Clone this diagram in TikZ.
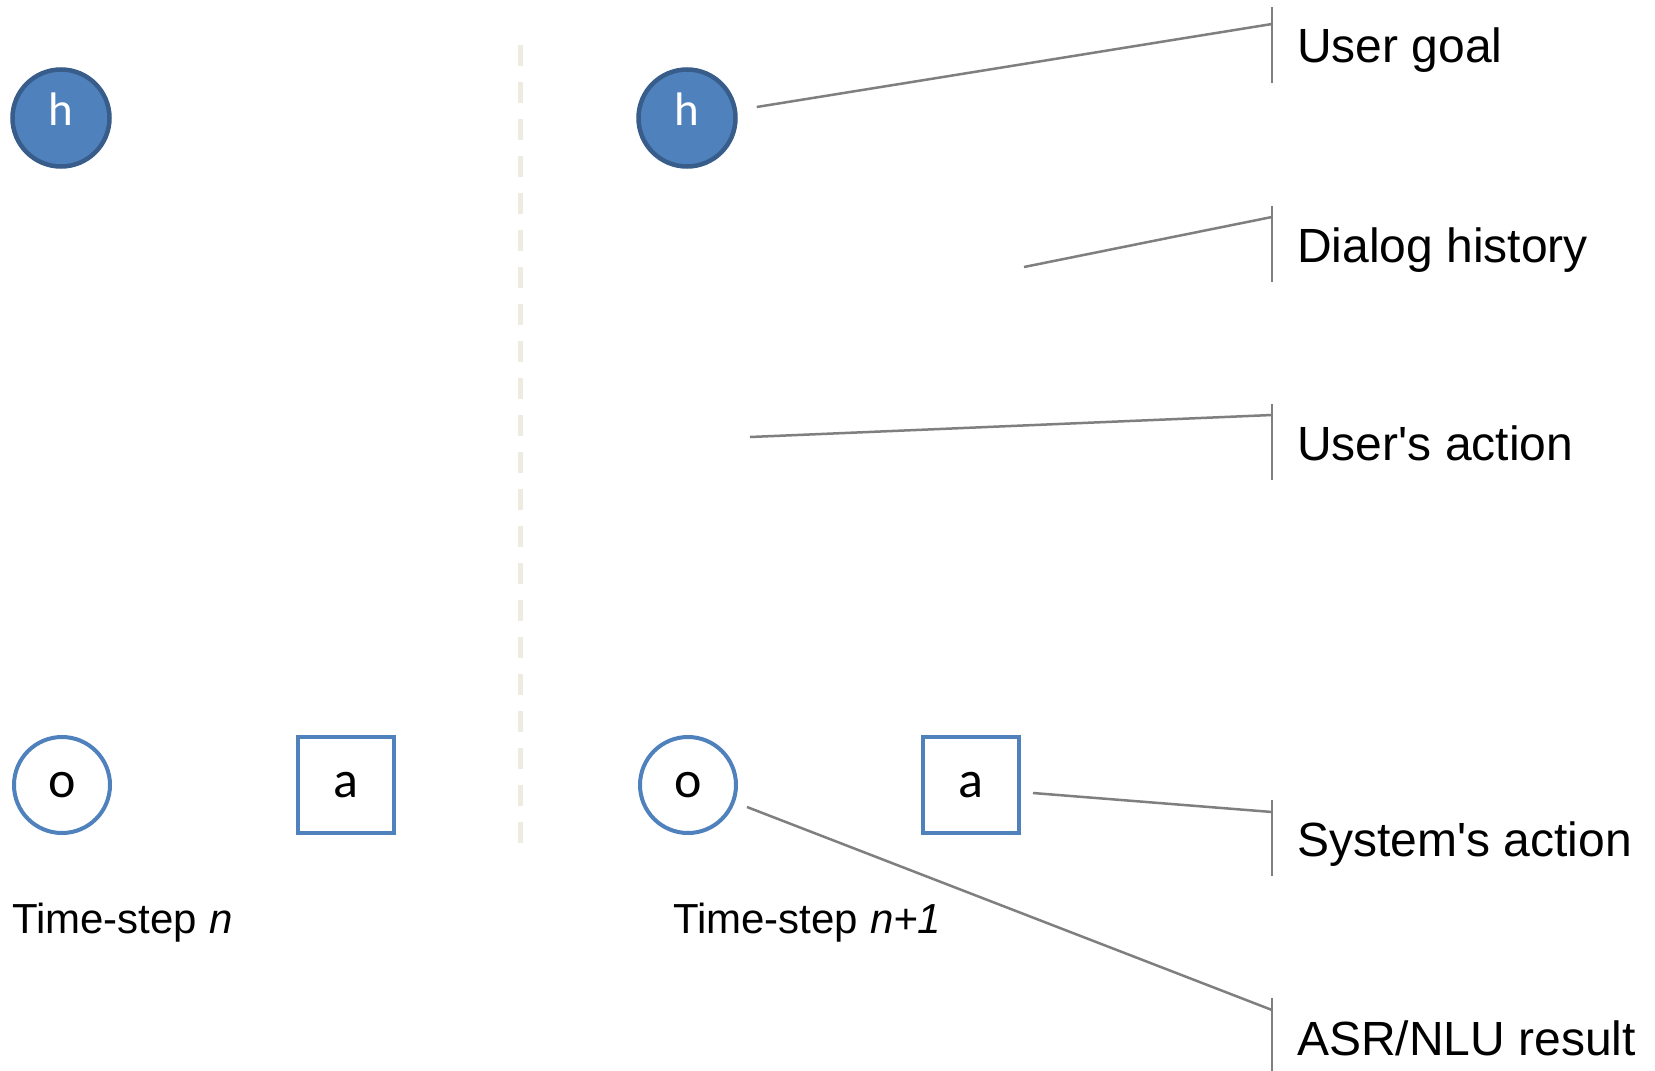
\documentclass[tikz,border=0pt]{standalone}
\usepackage{fontspec}
\setmainfont{Liberation Sans}
\newfontfamily\carl{Carlito}
\definecolor{nodeblue}{HTML}{4F81BD}
\definecolor{darkblue}{HTML}{385D8A}
\definecolor{connGray}{HTML}{7F7F7F}
\definecolor{sepcol}{HTML}{EEECE1}
\tikzset{
  hidden/.style={circle, minimum size=97pt, inner sep=0pt, line width=4.5pt, draw=darkblue, fill=nodeblue, text=white, font=\carl\fontsize{47pt}{47pt}\selectfont},
  obsv/.style={circle, minimum size=96pt, inner sep=0pt, line width=4pt, draw=nodeblue, fill=white, font=\carl\fontsize{52pt}{52pt}\selectfont},
  actn/.style={rectangle, minimum size=96pt, inner sep=0pt, line width=4pt, draw=nodeblue, fill=white, font=\carl\fontsize{52pt}{52pt}\selectfont},
  tslabel/.style={anchor=base west, inner sep=0pt, font=\fontsize{42pt}{42pt}\selectfont},
  lbl/.style={anchor=base west, inner sep=0pt, font=\fontsize{48pt}{48pt}\selectfont},
  conn/.style={draw=connGray, line width=2.5pt},
  bar/.style={draw=connGray, line width=2.5pt},
  sep/.style={draw=sepcol, line width=5pt, dash pattern=on 21pt off 16pt}
}
\begin{document}
\begin{tikzpicture}[x=1pt,y=-1pt]
\useasboundingbox[fill=white] (0,0) rectangle (1655,1071);
% separator
\coordinate (septop) at (520,45);
\coordinate (sepbot) at (520,850);
\draw[sep] (septop) -- (sepbot);
% time-step n
\node[hidden] (h1) at (61,118) {\raisebox{18pt}{h}};
\node[obsv] (o1) at (62,785) {\raisebox{-6pt}{o}};
\node[actn] (a1) at (346,785) {\raisebox{-6pt}{a}};
\node[tslabel] (t1) at (12,933) {Time-step \textit{n}};
% time-step n+1
\node[hidden] (h2) at (687,118) {\raisebox{18pt}{h}};
\node[obsv] (o2) at (688,785) {\raisebox{-6pt}{o}};
\node[actn] (a2) at (971,785) {\raisebox{-6pt}{a}};
\node[tslabel] (t2) at (673,933) {Time-step \textit{n+1}};
% bars
\coordinate (b1t) at (1272,7);    \coordinate (b1b) at (1272,83);
\coordinate (b2t) at (1272,206);  \coordinate (b2b) at (1272,282);
\coordinate (b3t) at (1272,404);  \coordinate (b3b) at (1272,480);
\coordinate (b4t) at (1272,800);  \coordinate (b4b) at (1272,876);
\coordinate (b5t) at (1272,998);  \coordinate (b5b) at (1272,1071);
\draw[bar] (b1t) -- (b1b);
\draw[bar] (b2t) -- (b2b);
\draw[bar] (b3t) -- (b3b);
\draw[bar] (b4t) -- (b4b);
\draw[bar] (b5t) -- (b5b);
% labels
\node[lbl] (lgoal) at (1297,62) {User goal};
\node[lbl] (lhist) at (1297,262) {Dialog history};
\node[lbl] (luact) at (1297,460) {User\textquotesingle s action};
\node[lbl] (lsact) at (1297,856) {System\textquotesingle s action};
\node[lbl] (lasr) at (1297,1055) {ASR/NLU result};
% connector points
\coordinate (cgoal) at (1272,24);
\coordinate (chist) at (1272,217);
\coordinate (cuact) at (1272,415);
\coordinate (csact) at (1272,812);
\coordinate (casr) at (1272,1010);
\coordinate (shist) at (1024,267);
\coordinate (suact) at (750,437);
\draw[conn] (h2.east) ++(19,-11) coordinate (sgoal) -- (cgoal);
\draw[conn] (shist) -- (chist);
\draw[conn] (suact) -- (cuact);
\draw[conn] (a2.east) ++(12,8) coordinate (ssact) -- (csact);
\draw[conn] (o2.east) ++(9,22) coordinate (sasr) -- (casr);
\end{tikzpicture}
\end{document}
